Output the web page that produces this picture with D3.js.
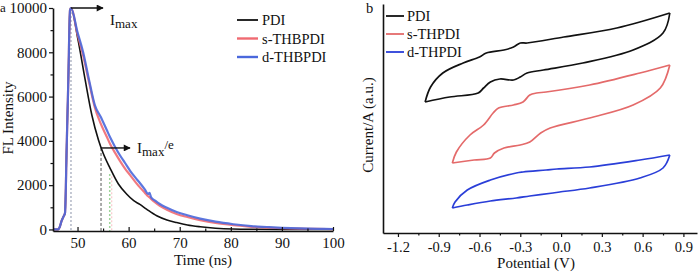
<!DOCTYPE html>
<html>
<head>
<meta charset="utf-8">
<script src="https://cdn.jsdelivr.net/npm/d3@7"></script>
<style>
  body { margin: 0; background: #fff; }
  text { font-family: "Liberation Serif", "Times New Roman", serif; font-size: 14.5px; fill: #111; }
  .pa .tick text { font-size: 15px; }
  .pb .tick text { font-size: 14.5px; }
</style>
</head>
<body>
<div id="container"></div>
<script>

// ---------- (a) fluorescence decay, time in ns / intensity ----------
// rising edge is shared by all three traces
const riseT = [45.2, 46.2, 46.5, 46.9, 47.3, 47.55, 47.88, 48.2, 48.53];
const riseI = [0, 0, 100, 400, 600, 740, 3740, 6750, 9900];

const pdiT = [48.72, 50.1, 51.5, 52.8, 54.1, 55.0, 56.4, 58.0, 59.6, 61.0, 62.2, 63.5, 65.5, 67.5, 69.4, 71.5, 74.0, 77.0, 80.4, 85, 90, 100];
const pdiI = [10000, 8560, 6750, 5170, 4040, 3450, 2750, 2050, 1600, 1300, 1130, 920, 620, 430, 310, 200, 120, 55, 20, 8, 3, 0];

const decayT = [48.72, 50.0, 51.1, 52.3, 53.4, 54.5, 55.7, 56.4, 57.3, 58.3, 59.3, 60.3, 61.3, 62.2, 63.2, 63.8, 64.1, 64.4, 65.2, 66.1, 67.5, 69.4, 71.5, 74.0, 77.0, 80.5, 84.0, 87.0, 90.0, 93.5, 97.0, 100];
const sThbI  = [10000, 8800, 7850, 6600, 5500, 4800, 4200, 3850, 3480, 3100, 2750, 2450, 2150, 1900, 1650, 1500, 1450, 1380, 1220, 1070, 890, 700, 560, 420, 290, 190, 120, 85, 55, 35, 25, 15];
const dThbI  = [10000, 8900, 8000, 6700, 5600, 5100, 4500, 4150, 3750, 3350, 3000, 2650, 2350, 2100, 1800, 1600, 1650, 1450, 1300, 1150, 980, 790, 640, 490, 350, 235, 150, 110, 75, 45, 30, 20];

const decayNames = ["PDI", "s-THBPDI", "d-THBPDI"];
const timeTicks = [50, 60, 70, 80, 90, 100];
const timeMinor = [55, 65, 75, 85, 95];
const intTicks = [0, 2000, 4000, 6000, 8000, 10000];
const intMinor = [1000, 3000, 5000, 7000, 9000];
const tPeak = 48.72, tPdiE = 54.6, tThbE = 56.3, iOverE = 3680;

// ---------- (b) cyclic voltammetry, potential in V / current in a.u. ----------
const pdiFwd = [[-1.0,13.1],[-0.82,13.6],[-0.61,14.0],[-0.57,14.5],[-0.52,15.1],[-0.45,15.4],[-0.35,15.3],[-0.30,15.6],[-0.25,16.0],[-0.13,16.3],[0.16,17.0],[0.53,18.3],[0.75,20.0],[0.80,22.0]];
const pdiRev = [[0.80,22.0],[0.41,20.5],[0.02,19.6],[-0.25,19.0],[-0.30,19.0],[-0.35,18.6],[-0.42,18.3],[-0.55,18.0],[-0.60,17.6],[-0.72,17.0],[-0.87,16.0],[-0.96,14.6],[-1.0,13.1]];
const sFwd = [[-0.80,7.0],[-0.64,7.3],[-0.52,7.5],[-0.49,8.0],[-0.42,8.5],[-0.30,8.8],[-0.23,9.1],[-0.15,10.0],[-0.08,10.5],[0.21,11.5],[0.53,12.8],[0.73,14.5],[0.80,16.8]];
const sRev = [[0.80,16.8],[0.58,16.0],[0.21,14.8],[-0.11,14.1],[-0.18,14.0],[-0.23,13.8],[-0.28,13.1],[-0.35,12.8],[-0.46,12.5],[-0.50,12.0],[-0.57,10.8],[-0.67,9.8],[-0.77,8.1],[-0.80,7.0]];
const dFwd = [[-0.80,2.5],[-0.69,2.8],[-0.52,3.2],[-0.33,3.5],[-0.23,3.7],[-0.06,4.0],[-0.01,4.1],[0.21,4.5],[0.58,5.5],[0.75,6.5],[0.80,7.8]];
const dRev = [[0.80,7.8],[0.58,7.3],[0.21,6.6],[-0.03,6.4],[-0.11,6.3],[-0.28,6.1],[-0.33,6.0],[-0.52,5.3],[-0.69,4.3],[-0.78,3.1],[-0.80,2.5]];

const cvNames = ["PDI", "s-THPDI", "d-THPDI"];
const potTicks = [-1.2, -0.9, -0.6, -0.3, 0.0, 0.3, 0.6, 0.9];
const potMinor = [-1.05, -0.75, -0.45, -0.15, 0.15, 0.45, 0.75];

const colA = ["#111111", "#f06a72", "#4a68dc"];
const colB = ["#111111", "#e46a6a", "#2a3ed8"];

const width = 700, height = 274;

const svg = d3.create("svg")
    .attr("width", width)
    .attr("height", height);

svg.append("defs").append("marker")
    .attr("id", "arr")
    .attr("viewBox", "0 0 10 10")
    .attr("refX", 9).attr("refY", 5)
    .attr("markerWidth", 9).attr("markerHeight", 7)
    .attr("markerUnits", "userSpaceOnUse")
    .attr("orient", "auto")
  .append("path")
    .attr("d", "M0,0 L10,5 L0,10 Z")
    .attr("fill", "#111");

// ================= panel a =================
const x = d3.scaleLinear().domain([45.2, 100]).range([53, 333]);
const y = d3.scaleLinear().domain([-70, 10000]).range([231, 8]);

const ga = svg.append("g").attr("class", "pa");

// guide lines
ga.append("line")
    .attr("x1", x(tPeak)).attr("x2", x(tPeak)).attr("y1", y(10000)).attr("y2", y(-70))
    .attr("stroke", "#8a93a8").attr("stroke-width", 1).attr("stroke-dasharray", "2,2");
ga.append("line")
    .attr("x1", x(tPdiE)).attr("x2", x(tPdiE)).attr("y1", y(iOverE)).attr("y2", y(-70))
    .attr("stroke", "#555").attr("stroke-width", 1).attr("stroke-dasharray", "3,2");
ga.append("line")
    .attr("x1", x(tThbE)).attr("x2", x(tThbE)).attr("y1", y(2500)).attr("y2", y(-70))
    .attr("stroke", "#9fd49a").attr("stroke-width", 1.5).attr("stroke-dasharray", "2,2");
ga.append("line")
    .attr("x1", x(tThbE + 0.4)).attr("x2", x(tThbE + 0.4)).attr("y1", y(2400)).attr("y2", y(-70))
    .attr("stroke", "#f6c0c0").attr("stroke-width", 1).attr("stroke-dasharray", "2,2");

const decaySeries = [
  riseT.map((t, i) => [t, riseI[i]]).concat(pdiT.map((t, i) => [t, pdiI[i]])),
  riseT.map((t, i) => [t, riseI[i]]).concat(decayT.map((t, i) => [t, sThbI[i]])),
  riseT.map((t, i) => [t, riseI[i]]).concat(decayT.map((t, i) => [t, dThbI[i]]))
];

const lineA = d3.line()
    .x(d => x(d[0]))
    .y(d => y(d[1]))
    .curve(d3.curveMonotoneX);

ga.selectAll("path.decay").data(decaySeries).enter().append("path")
    .attr("class", "decay")
    .attr("d", lineA)
    .attr("fill", "none")
    .attr("stroke", (d, i) => colA[i])
    .attr("stroke-width", (d, i) => i == 0 ? 1.6 : 2.2)
    .attr("opacity", (d, i) => i == 0 ? 1 : 0.9);

// axes
ga.append("g").attr("transform", `translate(0,${y(-70)})`)
    .call(d3.axisBottom(x).tickValues(timeTicks).tickSizeInner(-4).tickSizeOuter(0).tickPadding(6));
ga.append("g").attr("transform", `translate(0,${y(-70)})`)
    .call(d3.axisBottom(x).tickValues(timeMinor).tickSize(-2.5).tickFormat(""))
    .select(".domain").remove();
ga.append("g").attr("transform", `translate(${x(45.2)},0)`)
    .call(d3.axisLeft(y).tickValues(intTicks).tickSizeInner(4).tickSizeOuter(0).tickPadding(2)
      .tickFormat(d3.format("d")));
ga.append("g").attr("transform", `translate(${x(45.2)},0)`)
    .call(d3.axisLeft(y).tickValues(intMinor).tickSize(2.5).tickFormat(""))
    .select(".domain").remove();

// annotations
ga.append("line")
    .attr("x1", x(tPeak)).attr("x2", x(tPeak) + 32).attr("y1", y(10000)).attr("y2", y(10000))
    .attr("stroke", "#111").attr("stroke-width", 1.4).attr("marker-end", "url(#arr)");
const t1 = ga.append("text").attr("x", 110).attr("y", 25).style("font-size", "15px");
t1.append("tspan").text("I");
t1.append("tspan").attr("dy", 3).style("font-size", "13px").text("max");

ga.append("line")
    .attr("x1", x(tPdiE)).attr("x2", x(tPdiE) + 29).attr("y1", y(iOverE)).attr("y2", y(iOverE))
    .attr("stroke", "#111").attr("stroke-width", 1.4).attr("marker-end", "url(#arr)");
const t2 = ga.append("text").attr("x", 137).attr("y", 153).style("font-size", "15px");
t2.append("tspan").text("I");
t2.append("tspan").attr("dy", 3).style("font-size", "13px").text("max");
t2.append("tspan").attr("dy", -7).style("font-size", "13px").text("/e");

// legend a
const legA = ga.append("g");
decayNames.forEach((n, i) => {
  const ly = 20 + i * 18.5;
  legA.append("line").attr("x1", 237).attr("x2", 258).attr("y1", ly).attr("y2", ly)
      .attr("stroke", colA[i]).attr("stroke-width", i == 0 ? 1.8 : 2.4);
  legA.append("text").attr("x", 262).attr("y", ly).attr("dy", "0.35em").text(n);
});

ga.append("text").attr("x", 203).attr("y", 265).attr("text-anchor", "middle").style("font-size", "15px").text("Time (ns)");
ga.append("text").attr("transform", "translate(13,118) rotate(-90)").attr("text-anchor", "middle").style("font-size", "15px").text("FL Intensity");
ga.append("text").attr("x", 0).attr("y", 12).style("font-size", "13px").text("a");

// ================= panel b =================
const xr = d3.scaleLinear().domain([-1.31, 1.0]).range([383, 697]);
const yr = d3.scaleLinear().domain([0, 22.9]).range([233, 4]);

const gb = svg.append("g").attr("class", "pb");

const lineB = d3.line()
    .x(d => xr(d[0]))
    .y(d => yr(d[1]))
    .curve(d3.curveCatmullRom.alpha(0.5));

const cvBranches = [[pdiFwd, 0], [pdiRev, 0], [sFwd, 1], [sRev, 1], [dFwd, 2], [dRev, 2]];
gb.selectAll("path.cv").data(cvBranches).enter().append("path")
    .attr("class", "cv")
    .attr("d", d => lineB(d[0]))
    .attr("fill", "none")
    .attr("stroke", d => colB[d[1]])
    .attr("stroke-width", 1.7);

gb.append("g").attr("transform", `translate(0,${yr(0)})`)
    .call(d3.axisBottom(xr).tickValues(potTicks).tickSizeInner(4).tickSizeOuter(0).tickPadding(5)
      .tickFormat(d => d.toFixed(1)));
gb.append("g").attr("transform", `translate(0,${yr(0)})`)
    .call(d3.axisBottom(xr).tickValues(potMinor).tickSize(2.5).tickFormat(""))
    .select(".domain").remove();
gb.append("g").attr("transform", `translate(${xr(-1.31)},0)`)
    .call(d3.axisLeft(yr).tickValues([]).tickSizeOuter(0));

const legB = gb.append("g");
cvNames.forEach((n, i) => {
  const ly = 16 + i * 18;
  legB.append("line").attr("x1", 386).attr("x2", 404).attr("y1", ly).attr("y2", ly)
      .attr("stroke", colB[i]).attr("stroke-width", 1.8);
  legB.append("text").attr("x", 407).attr("y", ly).attr("dy", "0.35em").text(n);
});

gb.append("text").attr("x", 536).attr("y", 268).attr("text-anchor", "middle").style("font-size", "15px").text("Potential (V)");
gb.append("text").attr("transform", "translate(373,125) rotate(-90)").attr("text-anchor", "middle").style("font-size", "15px").text("Current/A (a.u.)");
gb.append("text").attr("x", 366).attr("y", 13).text("b");

svg.selectAll(".domain").attr("stroke-width", 1.6).attr("stroke", "#111");
svg.selectAll(".tick line").attr("stroke", "#111").attr("stroke-width", 1.2);
svg.selectAll(".tick text").attr("fill", "#111");

container.append(svg.node());

</script>
</body>
</html>
